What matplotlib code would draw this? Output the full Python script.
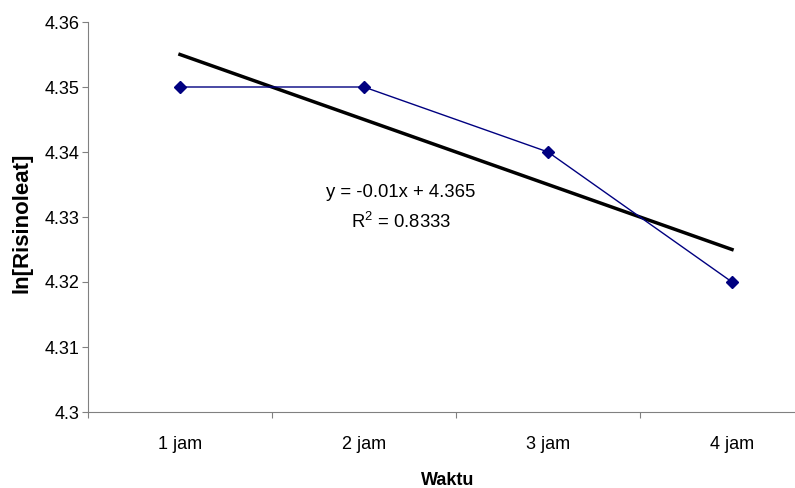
import numpy as np
import matplotlib.pyplot as plt

plt.rcParams['font.family'] = ['Liberation Sans', 'DejaVu Sans']

# data
waktu = ['1 jam', '2 jam', '3 jam', '4 jam']
ln_risinoleat = [4.35, 4.35, 4.34, 4.32]
slope = -0.01
intercept = 4.365
r2 = 0.8333

x = np.arange(1, len(waktu) + 1)

fig = plt.figure(figsize=(7.95, 4.88), dpi=100)
ax = fig.add_axes([88/795, 76/488, 736/795, 390/488])

ax.plot(x, ln_risinoleat, color='#000080', lw=1, marker='D', markersize=6, zorder=3)
ax.plot(x, slope * x + intercept, color='black', lw=2.5, zorder=2)

ax.text(2.2, 4.3337, 'y = -0.01x + 4.365', ha='center', va='center', fontsize=13.3)
ax.text(2.2, 4.3292, '$\\mathregular{R^2}$ = 0.8333', ha='center', va='center', fontsize=13.3)

ax.set_xlim(0.5, 4.5)
ax.set_ylim(4.3, 4.36)
ax.set_yticks([4.3, 4.31, 4.32, 4.33, 4.34, 4.35, 4.36])
ax.set_yticklabels(['4.3', '4.31', '4.32', '4.33', '4.34', '4.35', '4.36'])

# category boundaries as major ticks, labels on minor ticks
ax.set_xticks([0.5, 1.5, 2.5, 3.5, 4.5])
ax.set_xticklabels([])
ax.set_xticks(x, minor=True)
ax.set_xticklabels(waktu, minor=True)
ax.tick_params(axis='x', which='minor', length=0, pad=17, labelsize=13)
ax.tick_params(axis='x', which='major', length=4, color='#808080', direction='out')
ax.tick_params(axis='y', length=4, color='#808080', direction='out', pad=2, labelsize=13)

for s in ['top', 'right']:
    ax.spines[s].set_visible(False)
for s in ['left', 'bottom']:
    ax.spines[s].set_color('#808080')

ax.set_xlabel('Waktu', fontsize=13, fontweight='bold')
ax.set_ylabel('ln[Risinoleat]', fontsize=16, fontweight='bold')
ax.xaxis.set_label_coords(360/736, -60/390)
ax.yaxis.set_label_coords(-56/736, (412-223)/390)

plt.savefig('out.png', dpi=100)
